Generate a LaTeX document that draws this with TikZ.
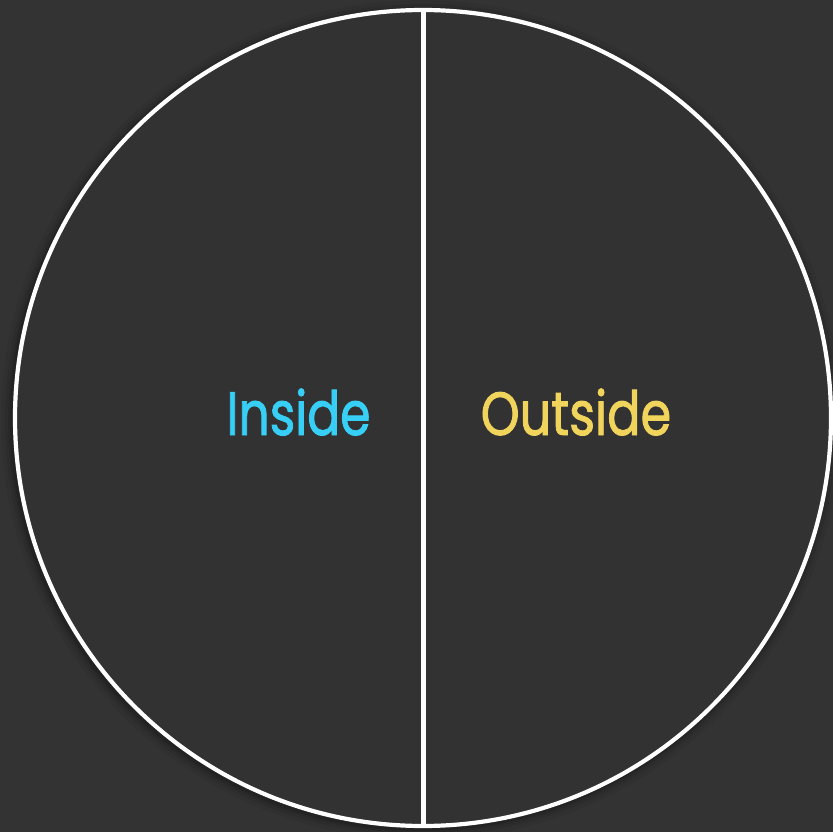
\documentclass[tikz,border=0pt]{standalone}
\usepackage{fontspec}
\setmainfont{Poppins}
\newfontfamily\lblfont{Poppins}[FakeBold=1.6]
\definecolor{bg}{HTML}{333333}
\definecolor{fillc}{HTML}{323232}
\definecolor{insidec}{HTML}{38CFF6}
\definecolor{outsidec}{HTML}{F1D45C}
\begin{document}
\begin{tikzpicture}[x=1pt,y=-1pt,
  ring/.style={draw=white,line width=4.2pt,fill=fillc},
  divider/.style={draw=white,line width=4.5pt},
  lbl/.style={anchor=base,font=\lblfont\fontsize{61}{61}\selectfont}]
\useasboundingbox (0,0) rectangle (833,832);
\fill[bg] (0,0) rectangle (833,832);
\foreach \r/\o in {420/0.05,416/0.07,413/0.09,411/0.12}{
  \fill[black,opacity=\o] (421,420) circle (\r);
}
\draw[ring] (423,418) circle (408);
\coordinate (top) at (423.5,10);
\coordinate (bottom) at (423.5,826);
\draw[divider] (top) -- (bottom);
\node[lbl,text=insidec] (inside) at (298.5,435) {\scalebox{0.8}[1]{Inside}};
\node[lbl,text=outsidec] (outside) at (576,435) {\scalebox{0.81}[1]{Outside}};
\end{tikzpicture}
\end{document}
